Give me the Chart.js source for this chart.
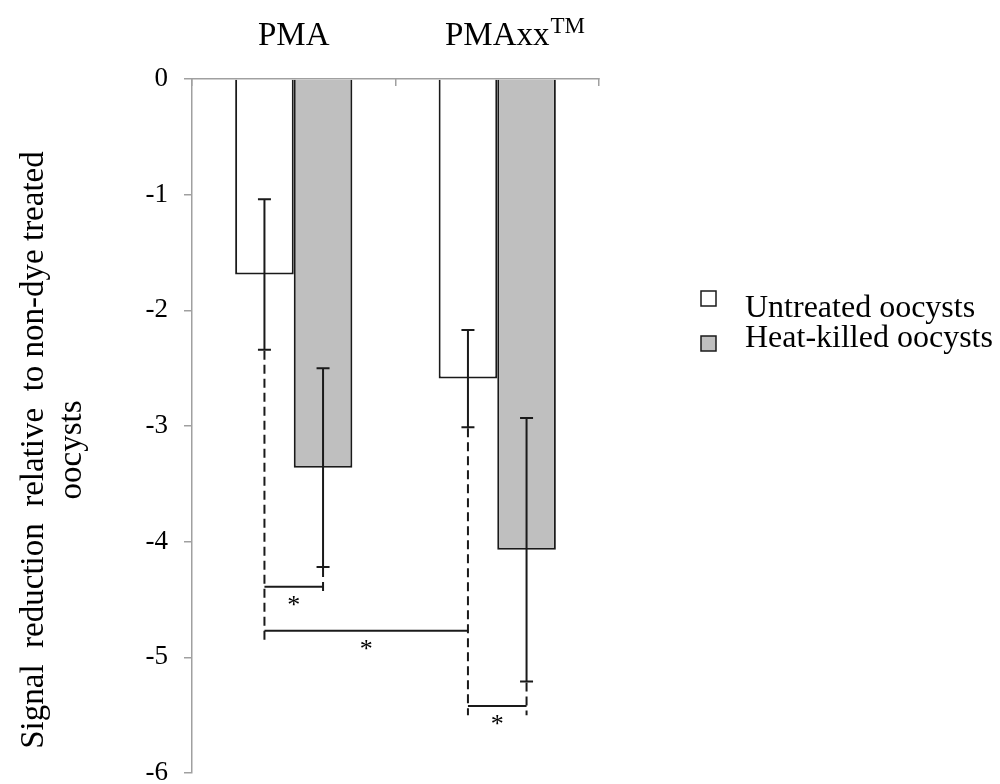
<!DOCTYPE html>
<html>
<head>
<meta charset="utf-8">
<script src="https://cdn.jsdelivr.net/npm/chart.js@4.4.1/dist/chart.umd.min.js"></script>
<style>
  html, body { margin: 0; padding: 0; background: #ffffff; }
  #wrap { width: 1000px; height: 784px; position: relative; }
</style>
</head>
<body>
<div id="wrap"><canvas id="c"></canvas></div>
<script>
// ---- data ----
const categories = ['PMA', 'PMAxx'];
const categorySuperscripts = ['', 'TM'];
const seriesNames = ['Untreated oocysts', 'Heat-killed oocysts'];
const untreated = [-1.69, -2.59];
const heatKilled = [-3.36, -4.07];
const untreatedErr = [0.65, 0.42];
const heatKilledErr = [0.86, 1.14];
const yTickLabels = ['0', '-1', '-2', '-3', '-4', '-5', '-6'];
const yTitleLines = ['Signal  reduction  relative  to non-dye treated', 'oocysts'];
// significance brackets: [categoryIndex, seriesIndex]
const bracketStart = [[0, 0], [0, 0], [1, 0]];
const bracketEnd = [[0, 1], [1, 0], [1, 1]];
const bracketLevel = [-4.39, -4.77, -5.42];
const bracketLabel = ['*', '*', '*'];

const SERIF = "'Liberation Serif', 'Times New Roman', serif";
const INK = '#1a1a1a';
const AXIS = '#a0a0a0';
const fills = ['#ffffff', '#bfbfbf'];
const errs = [untreatedErr, heatKilledErr];

const overlay = {
  id: 'overlay',
  afterDatasetsDraw(chart) {
    const ctx = chart.ctx;
    const y = chart.scales.y;
    const barX = (cat, ser) => chart.getDatasetMeta(ser).data[cat].x;
    const val = (cat, ser) => chart.data.datasets[ser].data[cat];
    ctx.save();
    // error bars
    ctx.strokeStyle = INK;
    ctx.lineWidth = 2;
    chart.data.datasets.forEach((ds, s) => {
      ds.data.forEach((v, i) => {
        const cx = barX(i, s);
        const t = y.getPixelForValue(v + errs[s][i]);
        const b = y.getPixelForValue(v - errs[s][i]);
        ctx.beginPath();
        ctx.moveTo(cx, t); ctx.lineTo(cx, b);
        ctx.moveTo(cx - 6.5, t); ctx.lineTo(cx + 6.5, t);
        ctx.moveTo(cx - 6.5, b); ctx.lineTo(cx + 6.5, b);
        ctx.stroke();
      });
    });
    // dashed drop lines
    const lowest = {};
    bracketLevel.forEach((lv, k) => {
      [bracketStart[k], bracketEnd[k]].forEach(p => {
        const key = p.join(',');
        lowest[key] = lowest[key] === undefined ? lv : Math.min(lowest[key], lv);
      });
    });
    ctx.setLineDash([9, 5]);
    ctx.lineWidth = 2;
    Object.keys(lowest).forEach(key => {
      const [c, s] = key.split(',').map(Number);
      const cx = barX(c, s);
      const from = y.getPixelForValue(val(c, s) - errs[s][c]);
      const to = y.getPixelForValue(lowest[key] - 0.08);
      ctx.beginPath();
      ctx.moveTo(cx, from + 1); ctx.lineTo(cx, to);
      ctx.stroke();
    });
    ctx.setLineDash([]);
    // brackets
    ctx.lineWidth = 2;
    ctx.fillStyle = '#000';
    ctx.font = '26px ' + SERIF;
    bracketLevel.forEach((lv, k) => {
      const x1 = barX(bracketStart[k][0], bracketStart[k][1]);
      const x2 = barX(bracketEnd[k][0], bracketEnd[k][1]);
      const py = y.getPixelForValue(lv);
      ctx.beginPath();
      ctx.moveTo(x1, py); ctx.lineTo(x2, py);
      ctx.stroke();
      const m = ctx.measureText(bracketLabel[k]);
      const cy = py + 14.5;
      ctx.textAlign = 'center';
      ctx.textBaseline = 'alphabetic';
      ctx.fillText(bracketLabel[k], (x1 + x2) / 2, cy + (m.actualBoundingBoxAscent - m.actualBoundingBoxDescent) / 2);
    });
    ctx.restore();
  },
  afterDraw(chart) {
    const ctx = chart.ctx;
    const x = chart.scales.x;
    ctx.save();
    ctx.fillStyle = '#000';
    // superscripts on category labels
    categories.forEach((c, i) => {
      if (!categorySuperscripts[i]) return;
      ctx.font = '33px ' + SERIF;
      const w = ctx.measureText(c).width;
      const px = x.getPixelForValue(i) + w / 2 + 1;
      ctx.font = '23px ' + SERIF;
      ctx.textAlign = 'left';
      ctx.textBaseline = 'alphabetic';
      ctx.fillText(categorySuperscripts[i], px, 33);
    });
    // y axis title
    ctx.font = '33px ' + SERIF;
    ctx.textAlign = 'center';
    ctx.textBaseline = 'alphabetic';
    const baselines = [43, 81];
    yTitleLines.forEach((t, i) => {
      ctx.save();
      ctx.translate(baselines[i], 450);
      ctx.rotate(-Math.PI / 2);
      ctx.fillText(t, 0, 0);
      ctx.restore();
    });
    // legend
    const boxTops = [291, 336];
    const textBase = [317, 347];
    ctx.font = '32px ' + SERIF;
    ctx.textAlign = 'left';
    chart.data.datasets.forEach((ds, i) => {
      ctx.fillStyle = ds.backgroundColor;
      ctx.fillRect(701, boxTops[i], 15, 15);
      ctx.strokeStyle = INK;
      ctx.lineWidth = 1.5;
      ctx.strokeRect(701, boxTops[i], 15, 15);
      ctx.fillStyle = '#000';
      ctx.fillText(ds.label, 745, textBase[i]);
    });
    ctx.restore();
  }
};

new Chart(document.getElementById('c'), {
  type: 'bar',
  data: {
    labels: categories,
    datasets: [
      { label: seriesNames[0], data: untreated, backgroundColor: fills[0], borderColor: INK, borderWidth: 2 },
      { label: seriesNames[1], data: heatKilled, backgroundColor: fills[1], borderColor: INK, borderWidth: 2 }
    ]
  },
  options: {
    responsive: true,
    maintainAspectRatio: false,
    animation: false,
    devicePixelRatio: 1,
    layout: { padding: { left: 0, top: 0, right: 401, bottom: 11 } },
    datasets: { bar: { categoryPercentage: 0.576, barPercentage: 1 } },
    plugins: { legend: { display: false }, tooltip: { enabled: false } },
    scales: {
      x: {
        position: 'top',
        grid: { display: true, drawOnChartArea: false, drawTicks: true, tickLength: -7, color: AXIS, lineWidth: 1.5, offset: true },
        border: { display: true, color: AXIS, width: 1.5 },
        ticks: { font: { family: SERIF, size: 33 }, color: '#000', padding: 30, maxRotation: 0 },
        afterFit(scale) { scale.height = 79; scale.paddingLeft = 0; scale.paddingRight = 0; }
      },
      y: {
        min: -6, max: 0,
        ticks: {
          stepSize: 1,
          font: { family: SERIF, size: 27 },
          color: '#000',
          padding: 16,
          callback: (v) => yTickLabels[Math.round(-v)]
        },
        grid: { display: true, drawOnChartArea: false, drawTicks: true, tickLength: 8, color: AXIS, lineWidth: 1.5 },
        border: { display: true, color: AXIS, width: 1.5 },
        title: { display: false },
        afterFit(scale) { scale.width = 192; scale.paddingTop = 0; scale.paddingBottom = 0; }
      }
    }
  },
  plugins: [overlay]
});
</script>
</body>
</html>
